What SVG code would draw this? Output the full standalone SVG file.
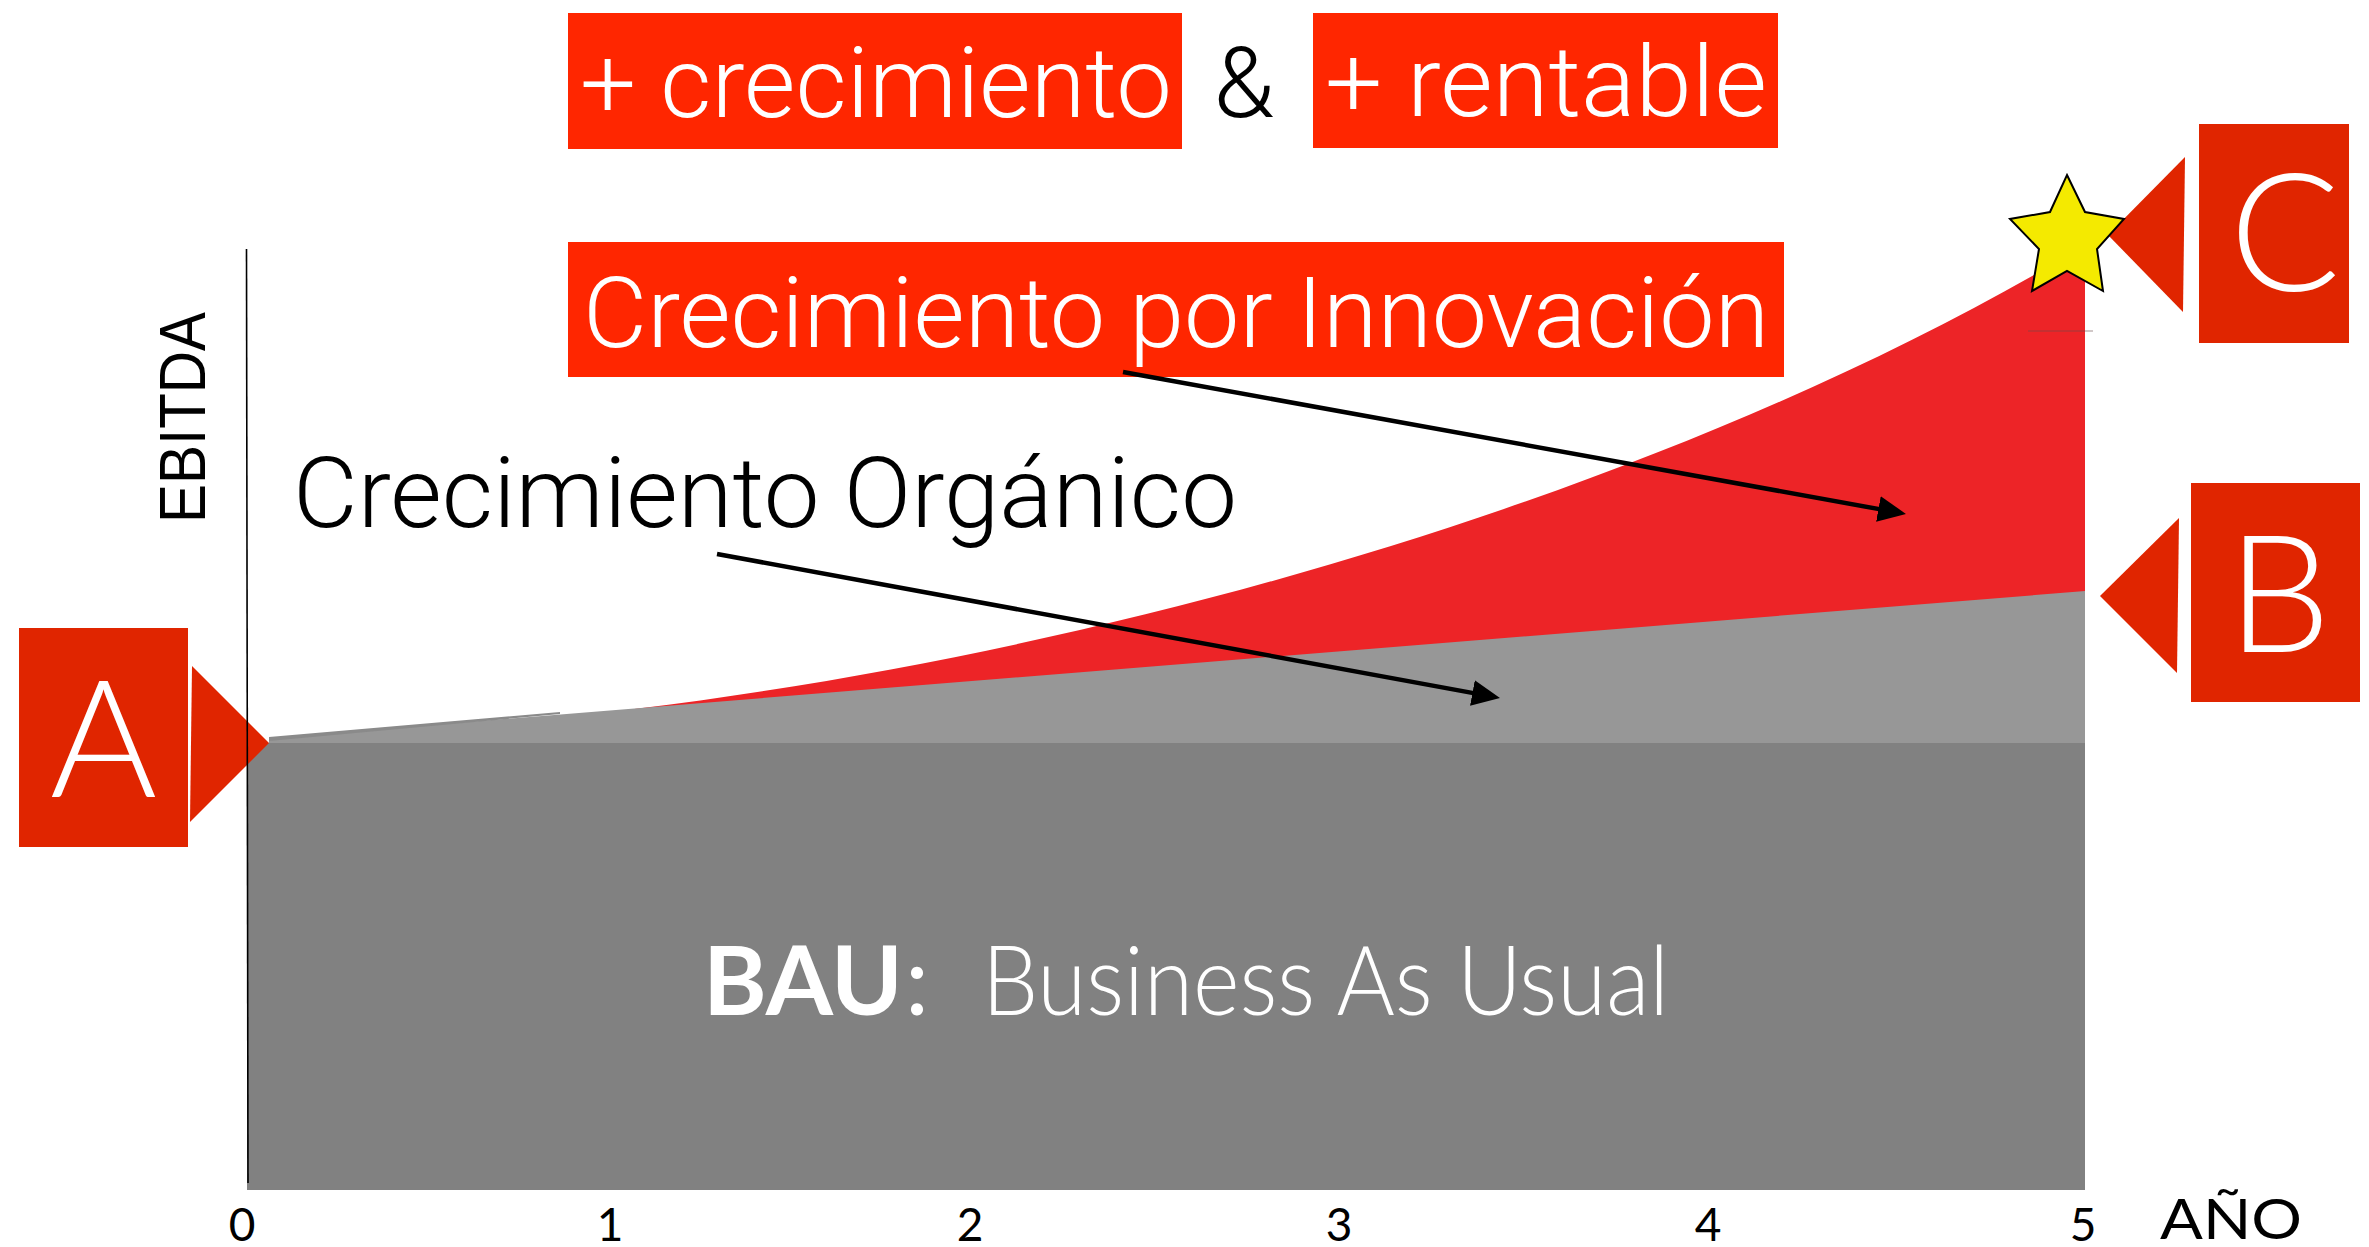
<svg xmlns="http://www.w3.org/2000/svg" width="2369" height="1247" viewBox="0 0 2369 1247">
<style>
.hl{font-family:Roboto,"Liberation Sans",Arial,sans-serif;font-weight:300;font-size:99px;fill:#fff}
.blk{font-family:Roboto,"Liberation Sans",Arial,sans-serif;font-weight:300;fill:#000}
.gs{font-family:Lato,"Open Sans",sans-serif}
.box{fill:#ff2600}
.mk{fill:#e02500}
.letter{font-family:Lato,"Open Sans",sans-serif;font-weight:300;font-size:164px;fill:#fff;text-anchor:middle}
.tick{font-family:Lato,"Open Sans",sans-serif;font-size:46px;fill:#000;text-anchor:middle}
.arrow{stroke:#000;stroke-width:4.5;fill:none;marker-end:url(#ah)}
</style>
<defs>
<marker id="ah" markerUnits="userSpaceOnUse" markerWidth="28" markerHeight="26" viewBox="0 0 28 26" refX="8" refY="13" orient="auto">
<path d="M0,0 L28,13 L0,26 Z" fill="#000"/>
</marker>
</defs>
<rect width="2369" height="1247" fill="#fff"/>

<g id="area-innovacion">
<path d="M269,738 C950,716 1650,508 2085,245 L2085,743 L269,743 Z" fill="#ed2427"/>
</g>
<g id="area-organico">
<polygon points="269,738 2085,591 2085,743 269,743" fill="#979797"/>
<polygon points="269,737 560,712 560,714 269,741" fill="#8a8a8a"/>
</g>
<g id="area-bau">
<rect x="247" y="743" width="1838" height="447" fill="#818181"/>
<text x="703" y="1015" class="gs" font-size="96" font-weight="700" fill="#fff" textLength="200" lengthAdjust="spacingAndGlyphs">BAU</text>
<text x="905" y="1015" class="gs" font-size="96" fill="#fff">:</text>
<text x="982" y="1015" class="gs" font-size="96" font-weight="300" fill="#fff" textLength="687" lengthAdjust="spacingAndGlyphs">Business As Usual</text>
</g>
<line x1="2028" y1="331" x2="2093" y2="331" stroke="#6a4a4a" stroke-width="1.2" opacity="0.6"/>

<g id="box-crecimiento">
<rect x="568" y="13" width="614" height="136" class="box"/>
<text x="580" y="117" class="hl" textLength="592" lengthAdjust="spacingAndGlyphs">+ crecimiento</text>
</g>
<g id="amp">
<text x="1244" y="117" class="blk" font-size="99" text-anchor="middle">&amp;</text>
</g>
<g id="box-rentable">
<rect x="1313" y="13" width="465" height="135" class="box"/>
<text x="1325" y="116" class="hl" textLength="442" lengthAdjust="spacingAndGlyphs">+ rentable</text>
</g>
<g id="box-innovacion">
<rect x="568" y="242" width="1216" height="135" class="box"/>
<text x="583" y="347" class="hl" textLength="1186" lengthAdjust="spacingAndGlyphs">Crecimiento por Innovación</text>
</g>
<g id="label-organico">
<text x="293" y="527" class="blk" font-size="99" textLength="944" lengthAdjust="spacingAndGlyphs">Crecimiento Orgánico</text>
</g>
<g id="label-ebitda">
<text transform="translate(205,523) rotate(-90)" font-family="Liberation Sans, Arial, sans-serif" font-size="64" fill="#000" textLength="211" lengthAdjust="spacingAndGlyphs">EBITDA</text>
</g>

<g id="marker-A">
<rect x="19" y="628" width="169" height="219" class="mk"/>
<polygon points="192,666 269,743 190,822" class="mk"/>
<text x="103.5" y="797" class="letter">A</text>
</g>
<g id="axis">
<line x1="246.5" y1="249" x2="248" y2="1183" stroke="#000" stroke-width="1.6"/>
</g>
<g id="marker-B">
<polygon points="2179,518 2100,596 2177,673" class="mk"/>
<rect x="2191" y="483" width="169" height="219" class="mk"/>
<text x="2279" y="652" class="letter">B</text>
</g>
<g id="marker-C">
<polygon points="2185,157 2108,235 2183,312" class="mk"/>
<rect x="2199" y="124" width="150" height="219" class="mk"/>
<text x="2285" y="291" class="letter">C</text>
</g>
<g id="star">
<polygon points="2067,175 2085,212 2124,219 2097,249 2103,291 2067,271 2032,291 2039,249 2010,219 2050,212" fill="#f4ea00" stroke="#000" stroke-width="2" stroke-linejoin="miter"/>
</g>

<g id="connectors">
<line x1="1123" y1="372" x2="1886.3" y2="510.4" class="arrow"/>
<line x1="717" y1="554" x2="1480.3" y2="694.4" class="arrow"/>
</g>

<g id="x-axis-labels">
<text x="242" y="1241" class="tick">0</text>
<text x="610" y="1241" class="tick">1</text>
<text x="970" y="1241" class="tick">2</text>
<text x="1339" y="1241" class="tick">3</text>
<text x="1708" y="1241" class="tick">4</text>
<text x="2083" y="1241" class="tick">5</text>
</g>
<g id="label-ano">
<text x="2160" y="1239" class="gs" font-size="57" fill="#000" textLength="142" lengthAdjust="spacingAndGlyphs">AÑO</text>
</g>
</svg>
